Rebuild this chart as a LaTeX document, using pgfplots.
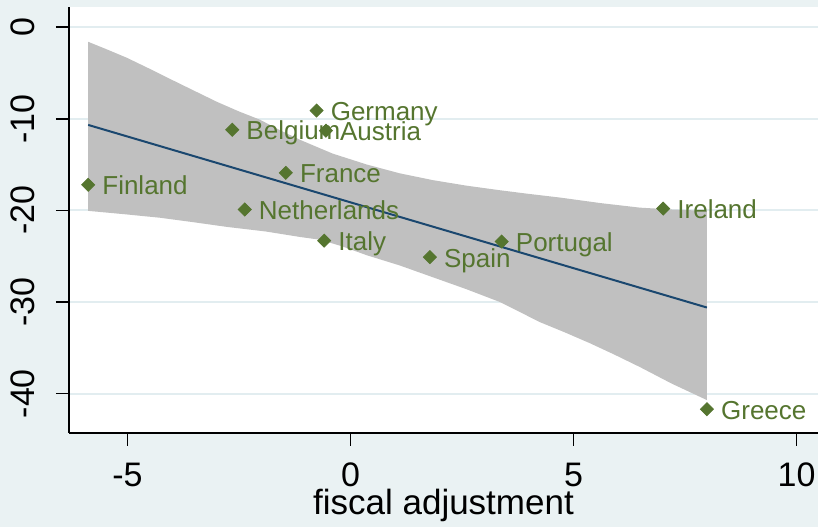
\documentclass[border=0pt]{standalone}
\usepackage{pgfplots}
\pgfplotsset{compat=1.18}
\usepackage{fontspec}
\setmainfont{Liberation Sans}
\definecolor{bgcol}{RGB}{234,242,243}
\definecolor{gridcol}{RGB}{226,237,240}
\definecolor{bandcol}{RGB}{192,192,192}
\definecolor{fitcol}{RGB}{26,71,111}
\definecolor{mkcol}{RGB}{85,117,47}
\begin{document}
\begin{tikzpicture}
\useasboundingbox (-34.5bp,-47.15bp) rectangle (374.5bp,216.35bp);
\clip (-34.5bp,-47.15bp) rectangle (374.5bp,216.35bp);
\fill[bgcol] (-34.5bp,-47.15bp) rectangle (374.5bp,216.35bp);
\begin{axis}[
  at={(0,0)}, anchor=south west, scale only axis,
  width=374.5bp, height=212.85bp,
  xmin=-6.31, xmax=10.48, ymin=-44.26, ymax=2.2,
  axis background/.style={fill=white},
  axis x line*=bottom, axis y line*=left,
  axis line style={black, line width=1bp, -},
  xtick={-5,0,5,10}, xticklabels={-5,0,5,10},
  ytick={-40,-30,-20,-10,0}, yticklabels={-40,-30,-20,-10,0},
  tick align=outside, major tick length=6.5bp, minor tick num=0,
  tick style={black, line width=0.8bp},
  ymajorgrids, major grid style={gridcol, line width=1bp},
  ticklabel style={font=\fontsize{17bp}{20bp}\selectfont, inner sep=0pt},
  xticklabel style={anchor=base, yshift=-20.5bp},
  yticklabel style={xshift=-10.5bp, rotate=90, anchor=base},
  xlabel={fiscal adjustment},
  xlabel style={at={(axis description cs:0.5,0)}, anchor=base, yshift=-41bp,
    font=\fontsize{17.5bp}{20bp}\selectfont, inner sep=0pt},
]
\addplot[fill=bandcol, draw=none] coordinates {
  (-5.88,-1.6) (-5.45,-2.45) (-5.01,-3.35) (-4.5,-4.55) (-4.05,-5.64)
  (-3.5,-6.95) (-2.99,-8.16) (-2.5,-9.2) (-2.03,-10.1) (-1.6,-11.2)
  (-1.13,-12.3) (-0.4,-13.8) (0.37,-15.0) (1.1,-15.95) (1.85,-16.7)
  (2.6,-17.3) (3.35,-17.8) (4.0,-18.2) (4.70,-18.6) (5.6,-19.2)
  (6.49,-19.7) (7.2,-19.9) (7.99,-20.05)
  (7.99,-40.7) (7.2,-38.9) (6.49,-37.1) (5.9,-35.7) (5.37,-34.5)
  (4.8,-33.3) (4.25,-32.2) (3.8,-31.1) (3.35,-30.0) (2.6,-28.6)
  (1.85,-27.3) (1.1,-26.0) (0.37,-24.9) (-0.2,-23.9) (-0.68,-23.2)
  (-1.13,-22.9) (-1.9,-22.3) (-2.77,-21.8) (-3.5,-21.3) (-4.27,-20.8)
  (-5.1,-20.4) (-5.88,-20.05)
} -- cycle;
\addplot[fitcol, line width=1bp] coordinates {(-5.88,-10.67) (7.99,-30.6)};
\addplot[only marks, mark=square*, mark size=2.3bp,
  mark options={rotate=45, fill=mkcol, draw=mkcol},
  point meta=explicit symbolic, nodes near coords,
  nodes near coords style={anchor=base west, xshift=6.9bp, yshift=-5bp,
    inner sep=0pt, font=\fontsize{13bp}{15bp}\selectfont, text=mkcol}]
  table[meta=label] {
x y label
-5.88 -17.2 Finland
-2.65 -11.2 Belgium
-0.76 -9.1 Germany
-0.55 -11.3 Austria
-1.45 -15.9 France
-2.37 -19.9 Netherlands
-0.59 -23.3 Italy
1.78 -25.1 Spain
3.39 -23.4 Portugal
7.01 -19.8 Ireland
7.99 -41.7 Greece
};
\end{axis}
\end{tikzpicture}
\end{document}
